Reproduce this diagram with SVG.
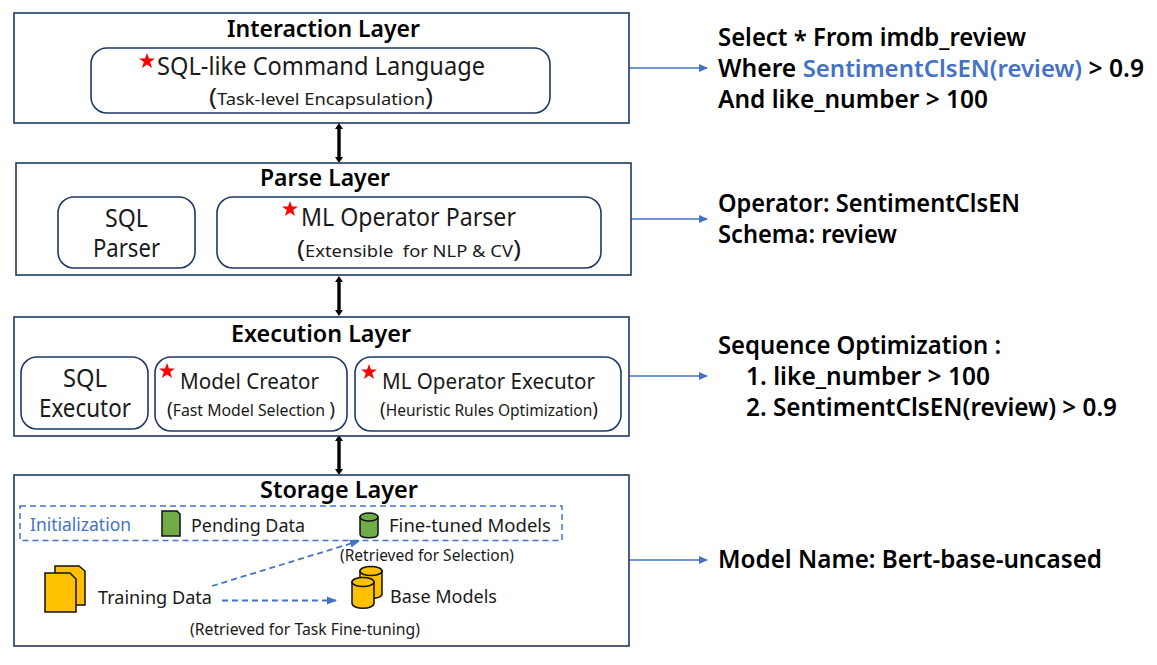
<svg xmlns="http://www.w3.org/2000/svg" width="1157" height="665" viewBox="0 0 1157 665">
<style>
text{font-family:"Noto Sans","Liberation Sans",sans-serif;fill:#1a1a1a}
.t{font-size:23px;font-weight:600;fill:#000}
.m{font-size:24.5px}
.n{font-size:22px}
.s{font-size:18px}
.x{font-size:16.5px}
.d{font-size:16px}
.r{font-size:24.5px;font-weight:600;fill:#000}
.layer{fill:#fff;stroke:#1f3864;stroke-width:1.6}
.box{fill:#fff;stroke:#1f3864;stroke-width:1.6}
.star{fill:#f00}
.link{stroke:#4472c4;stroke-width:1.5;fill:none;marker-end:url(#a)}
.dash{stroke:#4472c4;stroke-width:1.8;fill:none;stroke-dasharray:6 4}
.bi{stroke:#000;stroke-width:3.4;fill:none;marker-start:url(#b);marker-end:url(#b)}
.g{fill:#70ad47;stroke:#111;stroke-width:1.5}
.y{fill:#ffc000;stroke:#111;stroke-width:1.5}
</style>
<defs>
<marker id="a" markerUnits="userSpaceOnUse" markerWidth="9" markerHeight="8" refX="8" refY="4" orient="auto"><path d="M0 0L9 4L0 8z" fill="#4472c4"/></marker>
<marker id="c" markerUnits="userSpaceOnUse" markerWidth="10" markerHeight="10" refX="9" refY="5" orient="auto"><path d="M0 1L10 5L0 9z" fill="#4472c4"/></marker>
<marker id="b" markerUnits="userSpaceOnUse" markerWidth="6" markerHeight="8" refX="1" refY="4" orient="auto-start-reverse"><path d="M0 0L6 4L0 8z" fill="#000"/></marker>
<polygon id="star" class="star" points="0,-8 2,-2.5 8,-2.5 3.2,1 5,7 0,3.4 -5,7 -3.2,1 -8,-2.5 -2,-2.5"/>
</defs>
<g id="connectors">
<path class="bi" d="M339 128V158"/>
<path class="bi" d="M339 281V311"/>
<path class="bi" d="M339 440V470"/>
<path class="link" d="M629 68H707"/>
<path class="link" d="M631 219H707"/>
<path class="link" d="M629 376H707"/>
<path class="link" d="M629 560H707"/>
</g>
<g id="interaction-layer">
<rect class="layer" x="14" y="13" width="615" height="110"/>
<text class="t" x="227" y="37" textLength="193" lengthAdjust="spacingAndGlyphs">Interaction Layer</text>
<rect class="box" x="91" y="48" width="459" height="65" rx="16"/>
<use href="#star" x="147" y="61"/>
<text class="m" x="157" y="75" textLength="328" lengthAdjust="spacingAndGlyphs">SQL-like Command Language</text>
<text class="x" x="209" y="105" textLength="224" lengthAdjust="spacingAndGlyphs"><tspan font-size="24">(</tspan>Task-level Encapsulation<tspan font-size="24">)</tspan></text>
</g>
<g id="parse-layer">
<rect class="layer" x="16" y="163" width="615" height="112"/>
<text class="t" x="260" y="186" textLength="130" lengthAdjust="spacingAndGlyphs">Parse Layer</text>
<rect class="box" x="58" y="197" width="137" height="71" rx="16"/>
<text class="m" x="105" y="227" textLength="43" lengthAdjust="spacingAndGlyphs">SQL</text>
<text class="m" x="93" y="257" textLength="67" lengthAdjust="spacingAndGlyphs">Parser</text>
<rect class="box" x="217" y="197" width="384" height="71" rx="16"/>
<use href="#star" x="290" y="209"/>
<text class="m" x="301" y="226" textLength="215" lengthAdjust="spacingAndGlyphs">ML Operator Parser</text>
<text class="x" x="297" y="257" textLength="224" lengthAdjust="spacingAndGlyphs" xml:space="preserve"><tspan font-size="24">(</tspan>Extensible  for NLP &amp; CV<tspan font-size="24">)</tspan></text>
</g>
<g id="execution-layer">
<rect class="layer" x="14" y="317" width="615" height="119"/>
<text class="t" x="231" y="342" textLength="180" lengthAdjust="spacingAndGlyphs">Execution Layer</text>
<rect class="box" x="21" y="357" width="127" height="72" rx="16"/>
<text class="m" x="63" y="387" textLength="44" lengthAdjust="spacingAndGlyphs">SQL</text>
<text class="m" x="39" y="417" textLength="92" lengthAdjust="spacingAndGlyphs">Executor</text>
<rect class="box" x="155" y="357" width="192" height="74" rx="16"/>
<use href="#star" x="167" y="371"/>
<text class="n" x="180" y="389" textLength="139" lengthAdjust="spacingAndGlyphs">Model Creator</text>
<text class="x" x="167" y="416" textLength="168" lengthAdjust="spacingAndGlyphs" xml:space="preserve"><tspan font-size="20">(</tspan>Fast Model Selection <tspan font-size="20">)</tspan></text>
<rect class="box" x="355" y="357" width="266" height="74" rx="16"/>
<use href="#star" x="369" y="372"/>
<text class="n" x="382" y="389" textLength="213" lengthAdjust="spacingAndGlyphs">ML Operator Executor</text>
<text class="x" x="380" y="416" textLength="218" lengthAdjust="spacingAndGlyphs"><tspan font-size="20">(</tspan>Heuristic Rules Optimization<tspan font-size="20">)</tspan></text>
</g>
<g id="storage-layer">
<rect class="layer" x="14" y="475" width="615" height="171"/>
<text class="t" x="260" y="498" textLength="158" lengthAdjust="spacingAndGlyphs">Storage Layer</text>
<rect x="20" y="506" width="542" height="34.5" fill="none" stroke="#4472c4" stroke-width="1.5" stroke-dasharray="6 4"/>
<text x="30" y="531" textLength="101" lengthAdjust="spacingAndGlyphs" style="font-size:18px;fill:#4472c4">Initialization</text>
<path class="g" d="M162 511H177L180 514V536H162z"/>
<text class="s" x="191" y="532" textLength="114" lengthAdjust="spacingAndGlyphs">Pending Data</text>
<path class="g" d="M360 517V534C360 539 378 539 378 534V517z"/>
<ellipse class="g" cx="369" cy="517" rx="9" ry="4"/>
<text class="s" x="389" y="532" textLength="162" lengthAdjust="spacingAndGlyphs">Fine-tuned Models</text>
<text class="d" x="340" y="561" textLength="174" lengthAdjust="spacingAndGlyphs">(Retrieved for Selection)</text>
<path class="y" d="M55 566H79L85 571V605H55z"/>
<path class="y" d="M45 573H70L76 579V612H45z"/>
<text class="s" x="98" y="604" textLength="114" lengthAdjust="spacingAndGlyphs">Training Data</text>
<path class="dash" d="M212 586L359 541" style="marker-end:url(#c)"/>
<path class="dash" d="M222 600.5H336" style="marker-end:url(#c)"/>
<path class="y" d="M360 571V594C360 600 382 600 382 594V571z"/>
<ellipse class="y" cx="371" cy="571" rx="11" ry="4.5"/>
<path class="y" d="M352 582V603C352 610 374 610 374 603V582z"/>
<ellipse class="y" cx="363" cy="582" rx="11" ry="4.5"/>
<text class="s" x="390" y="603" textLength="107" lengthAdjust="spacingAndGlyphs">Base Models</text>
<text class="d" x="190" y="635" textLength="230" lengthAdjust="spacingAndGlyphs">(Retrieved for Task Fine-tuning)</text>
</g>
<g id="annotations">
<text class="r" x="718" y="46" textLength="308" lengthAdjust="spacingAndGlyphs">Select <tspan dy="3">*</tspan><tspan dy="-3"> From imdb_review</tspan></text>
<text class="r" x="718" y="77" textLength="426" lengthAdjust="spacingAndGlyphs">Where <tspan style="fill:#4472c4;font-size:23.8px">SentimentClsEN(review)</tspan> &gt; 0.9</text>
<text class="r" x="718" y="108" textLength="270" lengthAdjust="spacingAndGlyphs">And like_number &gt; 100</text>
<text class="r" x="718" y="212" textLength="302" lengthAdjust="spacingAndGlyphs">Operator: SentimentClsEN</text>
<text class="r" x="718" y="243" textLength="179" lengthAdjust="spacingAndGlyphs">Schema: review</text>
<text class="r" x="718" y="354" textLength="283" lengthAdjust="spacingAndGlyphs">Sequence Optimization :</text>
<text class="r" x="746" y="385" textLength="244" lengthAdjust="spacingAndGlyphs">1. like_number &gt; 100</text>
<text class="r" x="746" y="416" textLength="371" lengthAdjust="spacingAndGlyphs">2. SentimentClsEN(review) &gt; 0.9</text>
<text class="r" x="718" y="568" textLength="384" lengthAdjust="spacingAndGlyphs">Model Name: Bert-base-uncased</text>
</g>
</svg>
